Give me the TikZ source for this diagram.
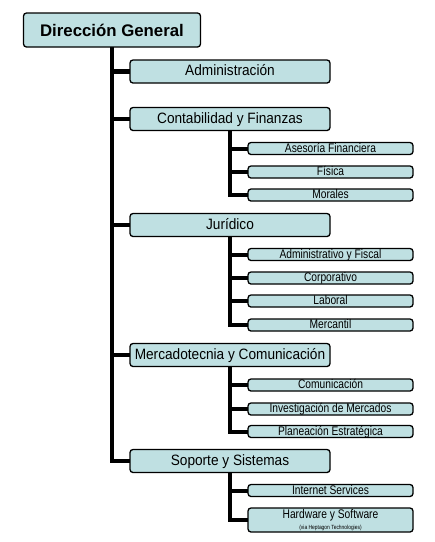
\documentclass[tikz,border=0pt]{standalone}
\usepackage{fontspec}
\setmainfont{Liberation Sans}
\newfontfamily\midfont[FakeStretch=0.91]{Liberation Sans}
\newfontfamily\narrowfont[FakeStretch=0.82]{Liberation Sans}
\definecolor{cajas}{RGB}{191,224,226}
\begin{document}
\begin{tikzpicture}[x=1pt,y=-1pt,
  caja/.style={draw=black,fill=cajas,line width=1.3pt,rounded corners=3pt,inner sep=0pt,outer sep=0pt},
  jefe/.style={caja,minimum width=177,minimum height=34,font=\fontsize{16.8}{18}\selectfont\bfseries},
  area/.style={caja,minimum width=200,minimum height=23,text height=11,text depth=3,font=\midfont\fontsize{15}{16}\selectfont},
  sub/.style={caja,minimum width=165,minimum height=12,text height=9.5,text depth=2.5,font=\narrowfont\fontsize{12.5}{13}\selectfont},
  tronco/.style={line width=4.5pt},
  rama/.style={line width=4pt}]
\useasboundingbox[fill=white](0,0) rectangle (435,542);
% direccion y areas
\node[jefe] (dg) at (112,30) {Dirección General};
\node[area] (adm) at (230,71.5) {Administración};
\node[area] (cont) at (230,119) {Contabilidad y Finanzas};
\node[area] (jur) at (230,225) {Jurídico};
\node[area] (merc) at (230,355) {Mercadotecnia y Comunicación};
\node[area] (sop) at (230,461) {Soporte y Sistemas};
\draw[tronco] (dg.south) -- (dg.south |- sop.west) -- (sop.west);
\draw[tronco] (dg.south |- adm.west) -- (adm.west);
\draw[tronco] (dg.south |- cont.west) -- (cont.west);
\draw[tronco] (dg.south |- jur.west) -- (jur.west);
\draw[tronco] (dg.south |- merc.west) -- (merc.west);
% contabilidad
\node[sub] (ase) at (330.5,148.5) {Asesoría Financiera};
\node[sub] (fis) at (330.5,172) {Física};
\node[sub] (mor) at (330.5,195) {Morales};
\draw[rama] (cont.south) -- (cont.south |- mor.west) -- (mor.west);
\draw[rama] (cont.south |- ase.west) -- (ase.west);
\draw[rama] (cont.south |- fis.west) -- (fis.west);
% juridico
\node[sub] (ayf) at (330.5,254.5) {Administrativo y Fiscal};
\node[sub] (corp) at (330.5,278) {Corporativo};
\node[sub] (lab) at (330.5,301) {Laboral};
\node[sub] (mcl) at (330.5,325) {Mercantil};
\draw[rama] (jur.south) -- (jur.south |- mcl.west) -- (mcl.west);
\draw[rama] (jur.south |- ayf.west) -- (ayf.west);
\draw[rama] (jur.south |- corp.west) -- (corp.west);
\draw[rama] (jur.south |- lab.west) -- (lab.west);
% mercadotecnia
\node[sub] (com) at (330.5,385) {Comunicación};
\node[sub] (inv) at (330.5,409) {Investigación de Mercados};
\node[sub] (plan) at (330.5,431.5) {Planeación Estratégica};
\draw[rama] (merc.south) -- (merc.south |- plan.west) -- (plan.west);
\draw[rama] (merc.south |- com.west) -- (com.west);
\draw[rama] (merc.south |- inv.west) -- (inv.west);
% soporte
\node[sub] (int) at (330.5,490.5) {Internet Services};
\node[sub,minimum height=24,text height=20,text depth=2,align=center] (hw) at (330.5,520)
  {Hardware y Software\\[-2pt]{\fontsize{6}{6}\selectfont(via Heptagon Technologies)}};
\draw[rama] (sop.south) -- (sop.south |- hw.west) -- (hw.west);
\draw[rama] (sop.south |- int.west) -- (int.west);
\end{tikzpicture}
\end{document}
